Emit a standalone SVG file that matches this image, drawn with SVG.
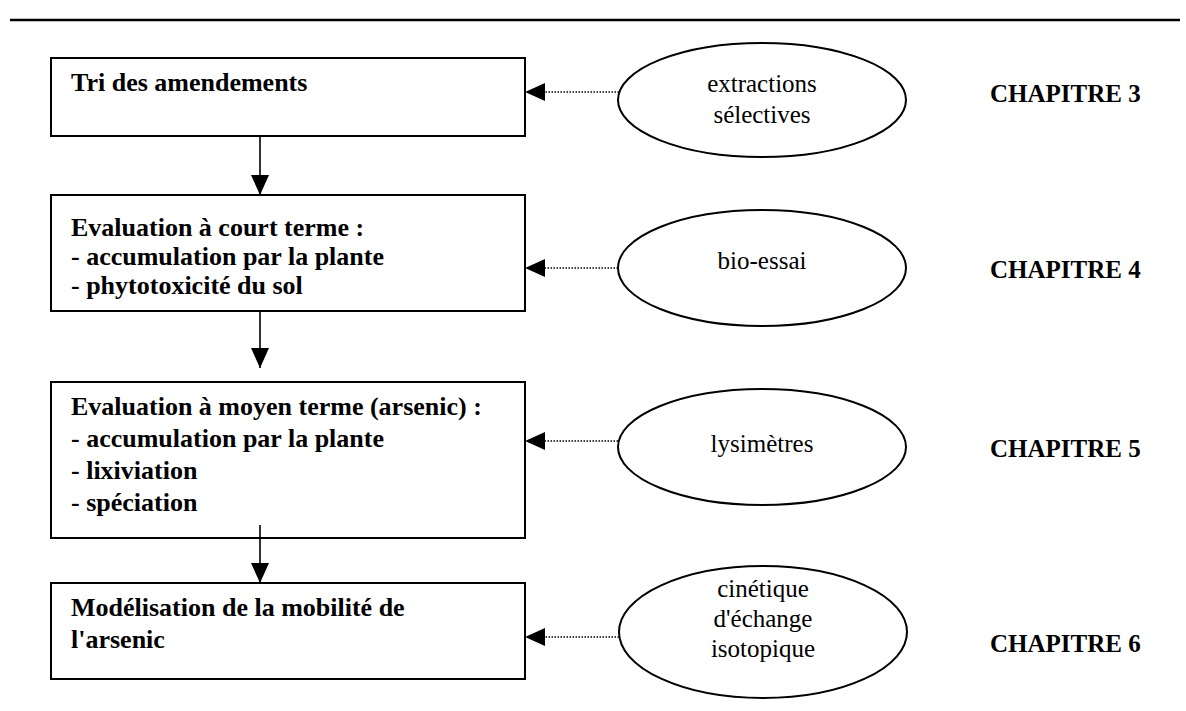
<svg xmlns="http://www.w3.org/2000/svg" width="1186" height="711" viewBox="0 0 1186 711">
<style>
.box{fill:#fff;stroke:#000;stroke-width:2}
.ell{fill:#fff;stroke:#000;stroke-width:2}
.bt{font-family:"Liberation Serif","Times New Roman",serif;font-weight:bold;font-size:26px;fill:#000}
.et{font-family:"Liberation Serif","Times New Roman",serif;font-size:25px;fill:#000;text-anchor:middle}
.ch{font-family:"Liberation Serif","Times New Roman",serif;font-weight:bold;font-size:25px;fill:#000}
.flow{stroke:#000;stroke-width:1.6;fill:none}
.dot{stroke:#000;stroke-width:1.6;fill:none;stroke-dasharray:1.5 1.5}
</style>
<defs>
<marker id="ah" viewBox="0 0 20 18" refX="20" refY="9" markerWidth="20" markerHeight="18" markerUnits="userSpaceOnUse" orient="auto">
<path d="M0,0 L20,9 L0,18 Z" fill="#000"/>
</marker>
</defs>
<line x1="10" y1="20" x2="1180" y2="20" stroke="#000" stroke-width="2.5"/>
<g id="box1">
<rect class="box" x="51" y="58" width="474" height="78"/>
<text class="bt" x="71" y="91">Tri des amendements</text>
</g>
<g id="box2">
<rect class="box" x="51" y="195" width="474" height="116"/>
<text class="bt" x="71" y="236">Evaluation à court terme :</text>
<text class="bt" x="71" y="265">- accumulation par la plante</text>
<text class="bt" x="71" y="294">- phytotoxicité du sol</text>
</g>
<g id="box3">
<rect class="box" x="51" y="382" width="474" height="156"/>
<text class="bt" x="71" y="415">Evaluation à moyen terme (arsenic) :</text>
<text class="bt" x="71" y="447">- accumulation par la plante</text>
<text class="bt" x="71" y="479">- lixiviation</text>
<text class="bt" x="71" y="511">- spéciation</text>
</g>
<g id="box4">
<rect class="box" x="51" y="583" width="474" height="96"/>
<text class="bt" x="71" y="616">Modélisation de la mobilité de</text>
<text class="bt" x="71" y="648">l'arsenic</text>
</g>
<g id="ell1">
<ellipse class="ell" cx="762" cy="100" rx="144" ry="57"/>
<text class="et" x="762" y="92">extractions</text>
<text class="et" x="762" y="123">sélectives</text>
</g>
<g id="ell2">
<ellipse class="ell" cx="762" cy="268" rx="144" ry="58"/>
<text class="et" x="762" y="269">bio-essai</text>
</g>
<g id="ell3">
<ellipse class="ell" cx="762" cy="447" rx="144" ry="58"/>
<text class="et" x="762" y="452">lysimètres</text>
</g>
<g id="ell4">
<ellipse class="ell" cx="763" cy="632" rx="144" ry="66"/>
<text class="et" x="763" y="597">cinétique</text>
<text class="et" x="763" y="627">d'échange</text>
<text class="et" x="763" y="657">isotopique</text>
</g>
<g id="ch3"><text class="ch" x="990" y="102">CHAPITRE 3</text></g>
<g id="ch4"><text class="ch" x="990" y="278">CHAPITRE 4</text></g>
<g id="ch5"><text class="ch" x="990" y="457">CHAPITRE 5</text></g>
<g id="ch6"><text class="ch" x="990" y="652">CHAPITRE 6</text></g>
<g id="connectors">
<line class="flow" x1="260" y1="136" x2="260" y2="195" marker-end="url(#ah)"/>
<line class="flow" x1="260" y1="311" x2="260" y2="368" marker-end="url(#ah)"/>
<line class="flow" x1="260" y1="525" x2="260" y2="583" marker-end="url(#ah)"/>
<line class="dot" x1="619" y1="92" x2="545" y2="92"/>
<path d="M545,83 L525,92 L545,101 Z" fill="#000"/>
<line class="dot" x1="618" y1="268" x2="545" y2="268"/>
<path d="M545,259 L525,268 L545,277 Z" fill="#000"/>
<line class="dot" x1="618" y1="441" x2="545" y2="441"/>
<path d="M545,432 L525,441 L545,450 Z" fill="#000"/>
<line class="dot" x1="619" y1="637" x2="545" y2="637"/>
<path d="M545,628 L525,637 L545,646 Z" fill="#000"/>
</g>
</svg>
